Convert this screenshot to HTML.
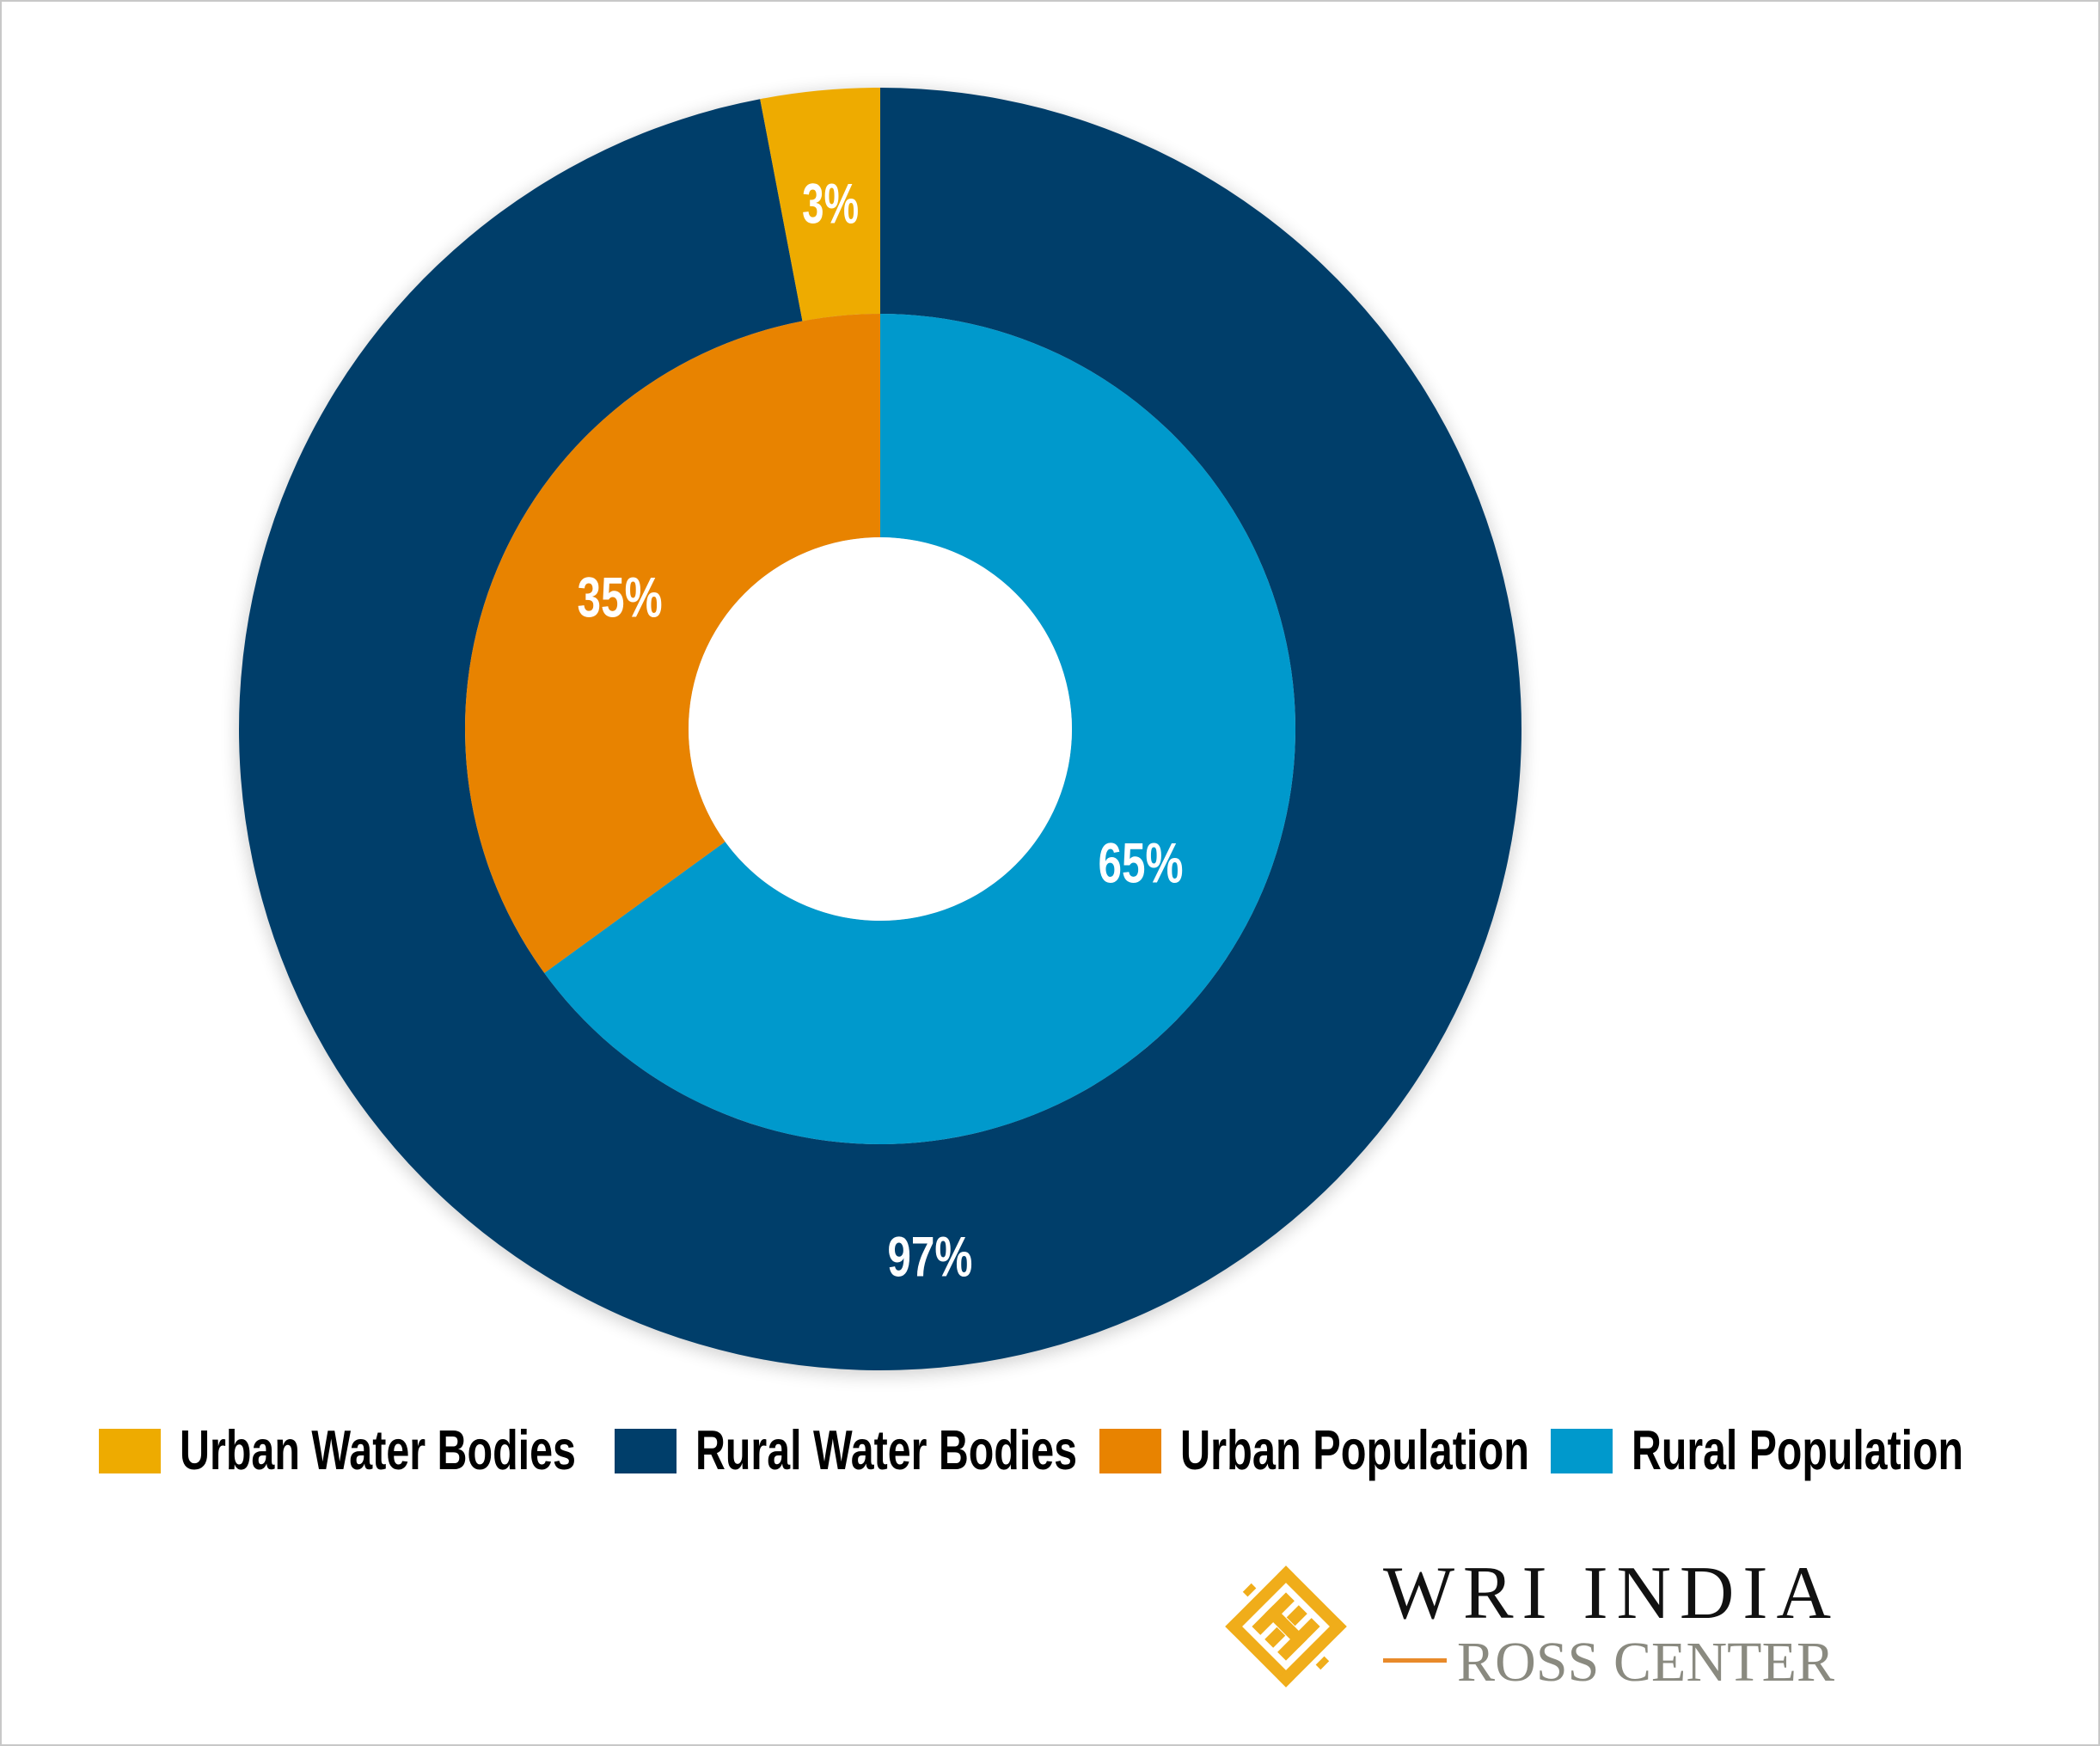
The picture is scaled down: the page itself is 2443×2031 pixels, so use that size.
<!DOCTYPE html>
<html><head><meta charset="utf-8"><style>
html,body{margin:0;padding:0;background:#fff;}
svg{display:block;}
</style></head><body>
<svg id="chart" width="2443" height="2031" viewBox="0 0 2443 2031" xmlns="http://www.w3.org/2000/svg">
<defs>
<filter id="sh" x="-20%" y="-20%" width="140%" height="140%"><feGaussianBlur stdDeviation="10"/></filter>
</defs>
<rect x="1" y="1" width="2441" height="2029" fill="#fff" stroke="#c8c8c8" stroke-width="2"/>
<circle cx="1024" cy="852" r="748" fill="#000" opacity="0.18" filter="url(#sh)"/>
<g id="rings"></g>
<circle cx="1024" cy="848" r="223" fill="#fff"/>
<g id="labels"></g>
<g id="legend"></g>
<g>
  <g transform="translate(1496,1892) rotate(45)" fill="#f0ad1a">
    <rect x="-50" y="-50" width="100" height="14"/>
    <rect x="-50" y="36" width="100" height="14"/>
    <rect x="-50" y="-50" width="14" height="100"/>
    <rect x="36" y="-50" width="14" height="100"/>
    <rect x="-28" y="-28" width="14" height="56"/>
    <rect x="14" y="-28" width="14" height="56"/>
    <rect x="-28" y="-7" width="56" height="14"/>
    <rect x="-7" y="-28" width="14" height="20"/>
    <rect x="-7" y="8" width="14" height="20"/>
    <rect x="-64" y="-7" width="8" height="14"/>
    <rect x="56" y="-7" width="8" height="14"/>
  </g>
  <text x="1609" y="1882" font-family="Liberation Serif, serif" font-size="88" fill="#111" textLength="521" lengthAdjust="spacing">WRI INDIA</text>
  <rect x="1609" y="1929" width="74" height="5" fill="#e88a2a"/>
  <text x="1695" y="1955" font-family="Liberation Serif, serif" font-size="66" fill="#8a8a80" textLength="439" lengthAdjust="spacing">ROSS CENTER</text>
</g>
</svg>
<script>
const outerCategories = ['Rural Water Bodies', 'Urban Water Bodies'];
const outerValues = [97, 3];
const innerCategories = ['Rural Population', 'Urban Population'];
const innerValues = [65, 35];
const legendLabels = ['Urban Water Bodies', 'Rural Water Bodies', 'Urban Population', 'Rural Population'];

const NS = 'http://www.w3.org/2000/svg';
const cx = 1024, cy = 848;
const colors = {'Rural Water Bodies':'#003e6a','Urban Water Bodies':'#eeab00','Urban Population':'#e88300','Rural Population':'#0099cc'};
function pt(r, frac){ const a = frac*2*Math.PI; return [cx + r*Math.sin(a), cy - r*Math.cos(a)]; }
function arcPath(r0, r1, f0, f1){
  const large = (f1-f0) > 0.5 ? 1 : 0;
  const [x0,y0]=pt(r1,f0),[x1,y1]=pt(r1,f1),[x2,y2]=pt(r0,f1),[x3,y3]=pt(r0,f0);
  return `M${x0},${y0}A${r1},${r1} 0 ${large} 1 ${x1},${y1}L${x2},${y2}A${r0},${r0} 0 ${large} 0 ${x3},${y3}Z`;
}
const rings = document.getElementById('rings');
const labels = document.getElementById('labels');
function drawRing(cats, vals, r0, r1, labelR, nameP){
  const tot = vals.reduce((a,b)=>a+b,0);
  let acc = 0;
  cats.forEach((c,i)=>{
    const f0 = acc/tot, f1 = (acc+vals[i])/tot; acc += vals[i];
    const p = document.createElementNS(NS,'path');
    p.setAttribute('d', arcPath(r0,r1,f0,f1));
    p.setAttribute('fill', colors[c]);
    
    
    rings.appendChild(p);
    const mid = (f0+f1)/2;
    const [lx,ly] = pt(labelR, mid);
    const t = document.createElementNS(NS,'text');
    t.setAttribute('x', lx); t.setAttribute('y', ly + 24);
    t.setAttribute('text-anchor','middle');
    t.setAttribute('font-family','Liberation Sans, sans-serif');
    t.setAttribute('font-weight','bold');
    t.setAttribute('font-size','66');
    t.setAttribute('fill','#fff');
    const txt = vals[i] + '%';
    t.setAttribute('textLength', String(txt.length*33));
    t.setAttribute('lengthAdjust','spacingAndGlyphs');
    t.textContent = txt;
    
    
    labels.appendChild(t);
  });
}
drawRing(outerCategories, outerValues, 483, 746, 615, 'outer');
drawRing(innerCategories, innerValues, 223, 483, 340, 'inner');

const legend = document.getElementById('legend');
const swX = [115, 715, 1279, 1804];
const txW = [461, 444, 406, 386];
legendLabels.forEach((l,i)=>{
  const r = document.createElementNS(NS,'rect');
  r.setAttribute('x', swX[i]); r.setAttribute('y', 1662);
  r.setAttribute('width', 72); r.setAttribute('height', 52);
  r.setAttribute('fill', colors[l]);
  
  
  legend.appendChild(r);
  const t = document.createElementNS(NS,'text');
  t.setAttribute('x', swX[i] + 94); t.setAttribute('y', 1709);
  t.setAttribute('font-family','Liberation Sans, sans-serif');
  t.setAttribute('font-weight','bold');
  t.setAttribute('font-size','65');
  t.setAttribute('fill','#000');
  t.setAttribute('textLength', txW[i]);
  t.setAttribute('lengthAdjust','spacingAndGlyphs');
  t.textContent = l;
  
  
  legend.appendChild(t);
});
</script>
</body></html>
